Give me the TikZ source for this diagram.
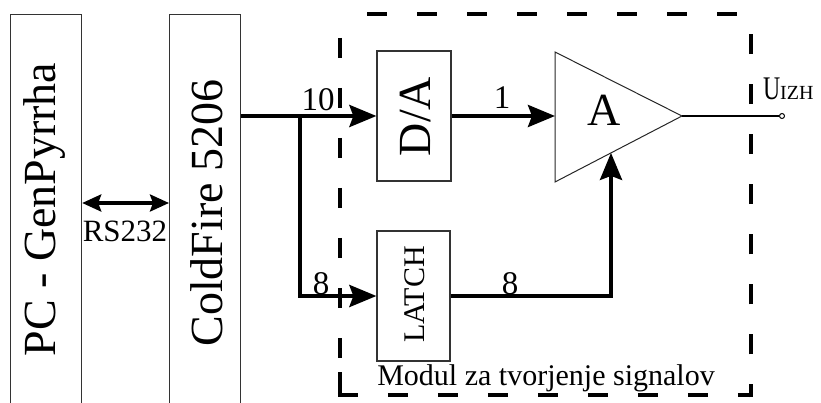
\documentclass[tikz,border=0pt]{standalone}
\usepackage{fontspec}
\setmainfont{Liberation Serif}
\usetikzlibrary{arrows.meta,calc}
\begin{document}
\begin{tikzpicture}[x=1pt,y=-1pt,
  blk/.style={draw=black!80, line width=1.2pt, inner sep=0pt},
  conn/.style={line width=4pt, -{Stealth[length=27pt,width=22pt,inset=4pt]}},
  rsarrow/.style={line width=3.5pt, {Stealth[length=19pt,width=17pt,inset=3pt]}-{Stealth[length=19pt,width=17pt,inset=3pt]}},
  frame/.style={line width=4.5pt, dash pattern=on 20pt off 30pt},
  big/.style={font=\fontsize{46}{46}\selectfont, inner sep=0pt},
  lbl/.style={font=\fontsize{33}{33}\selectfont, inner sep=0pt, anchor=base},
  small/.style={font=\fontsize{30}{30}\selectfont, inner sep=0pt},
]
\useasboundingbox (0,0) rectangle (821,403);
\clip (0,0) rectangle (821,403);
% left blocks
\node[blk, anchor=north west, minimum width=71pt, minimum height=400pt] (pc) at (10,14) {};
\node[blk, anchor=north west, minimum width=71pt, minimum height=400pt] (cf) at (169,14) {};
\node[big, rotate=90, anchor=base] (pct) at (55,209.5) {PC - GenPyrrha};
\node[big, rotate=90, anchor=base] (cft) at (222,213) {ColdFire 5206};
% RS232 link
\coordinate (rsy) at (0,203);
\draw[rsarrow] (pc.east |- rsy) -- (cf.west |- rsy);
\node[lbl, font=\fontsize{31}{31}\selectfont] (rs) at (125,242) {RS232};
% D/A and LATCH
\node[blk, minimum width=74pt, minimum height=130pt] (da) at (414,116) {};
\node[big, rotate=90, anchor=base] (dat) at (430,116.5) {D/A};
\node[blk, minimum width=73pt, minimum height=130pt] (latch) at (413.5,296) {};
\node[small, rotate=90, anchor=base] (latcht) at (424,294.5) {LATCH};
% amplifier
\coordinate (ampT) at (555,52);
\coordinate (ampB) at (555,182);
\coordinate (ampTip) at (682,116);
\coordinate (ampL) at (555,116);
\coordinate (ampIn) at ($(ampB)!0.441!(ampTip)$);
\draw[line width=1pt, black!85] (ampT) -- (ampTip) -- (ampB) -- cycle;
\node[big, anchor=base] (ampt) at (604,126) {A};
% connectors
\coordinate (br) at (300,116);
\draw[conn] (cf.east |- da.west) -- (da.west);
\draw[conn] (br) |- (latch.west);
\draw[conn] (da.east) -- (ampL);
\draw[conn] (latch.east) -| (ampIn);
\node[draw, circle, inner sep=0pt, minimum size=5pt, line width=1pt, fill=white] (out) at (782,116) {};
\draw[line width=1.2pt] (ampTip) -- (out);
% labels
\node[lbl] (l10) at (318,111) {10};
\node[lbl] (l1) at (502,109) {1};
\node[lbl] (l8a) at (321,294) {8};
\node[lbl] (l8b) at (510,294) {8};
\node[font=\fontsize{33}{33}\selectfont, inner sep=0pt, anchor=base west, xscale=0.72] (u) at (763,100) {U};
\node[font=\fontsize{20}{20}\selectfont, inner sep=0pt, anchor=base west] (izh) at (780,100) {IZH};
% dashed module frame
\draw[frame, dash phase=23pt] (340,14) -- (751,14);
\draw[frame] (337.75,395) -- (751,395);
\draw[frame, dash phase=7pt] (751,397.25) -- (751,14);
\draw[frame, dash phase=26pt] (340,14) -- (340,395);
\draw[line width=4.5pt] (340,372) -- (340,397.25);
\node[small, anchor=base] (mod) at (546,385) {Modul za tvorjenje signalov};
\end{tikzpicture}
\end{document}
